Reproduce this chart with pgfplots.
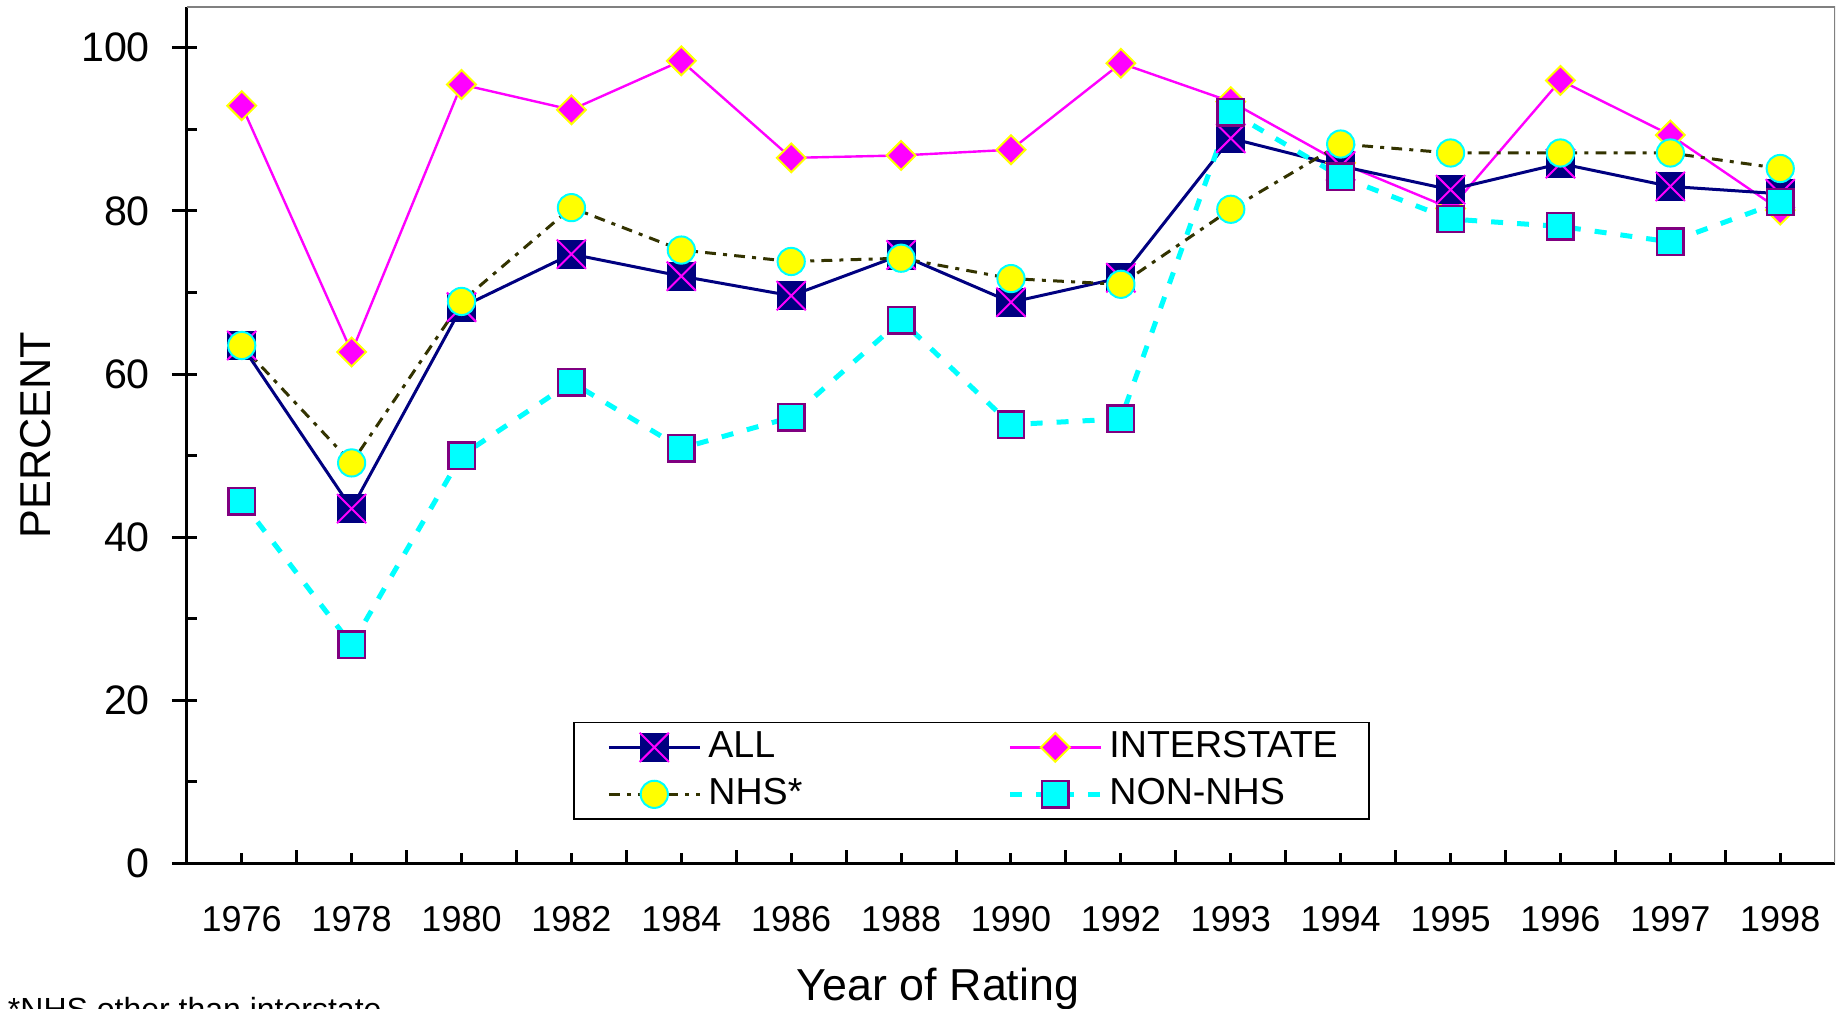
\documentclass[border=0pt]{standalone}
\usepackage{fontspec}
\setmainfont{Liberation Sans}
\usepackage{pgfplots}
\pgfplotsset{compat=1.18}
\definecolor{navyc}{RGB}{0,0,128}
\definecolor{magc}{RGB}{255,0,255}
\definecolor{yelc}{RGB}{255,255,0}
\definecolor{cyanc}{RGB}{0,255,255}
\definecolor{purpc}{RGB}{128,0,128}
\definecolor{olivec}{RGB}{51,51,0}
\definecolor{bordgray}{RGB}{128,128,128}
\pgfdeclareplotmark{allmark}{%
  \pgfpathrectangle{\pgfqpoint{-\pgfplotmarksize}{-\pgfplotmarksize}}{\pgfqpoint{2\pgfplotmarksize}{2\pgfplotmarksize}}%
  \pgfsetfillcolor{navyc}\pgfusepathqfill
  \pgfpathmoveto{\pgfqpoint{-\pgfplotmarksize}{-\pgfplotmarksize}}%
  \pgfpathlineto{\pgfqpoint{\pgfplotmarksize}{\pgfplotmarksize}}%
  \pgfpathmoveto{\pgfqpoint{-\pgfplotmarksize}{\pgfplotmarksize}}%
  \pgfpathlineto{\pgfqpoint{\pgfplotmarksize}{-\pgfplotmarksize}}%
  \pgfsetstrokecolor{magc}\pgfsetlinewidth{0.5pt}\pgfsetdash{}{0pt}\pgfusepathqstroke}
\pgfdeclareplotmark{rdiamond*}{%
  \pgfpathmoveto{\pgfqpoint{0pt}{\pgfplotmarksize}}%
  \pgfpathlineto{\pgfqpoint{\pgfplotmarksize}{0pt}}%
  \pgfpathlineto{\pgfqpoint{0pt}{-\pgfplotmarksize}}%
  \pgfpathlineto{\pgfqpoint{-\pgfplotmarksize}{0pt}}%
  \pgfpathclose
  \pgfusepathqfillstroke}
\newcommand{\lgt}[1]{\raisebox{-3.35pt}[0pt][0pt]{#1}}
\pgfplotsset{
  allstyle/.style={navyc, line width=0.75pt, solid, mark=allmark, mark size=3.65pt, mark options={solid}},
  intstyle/.style={magc, line width=0.6pt, solid, mark=rdiamond*, mark size=3.6pt, mark options={solid, draw=yelc, fill=magc, line width=0.5pt}},
  nhsstyle/.style={olivec, line width=0.75pt, dash pattern=on 2.7pt off 1.8pt on 1pt off 1.8pt, mark=*, mark size=3.4pt, mark options={solid, draw=cyanc, fill=yelc, line width=0.5pt}},
  nonstyle/.style={cyanc, line width=1.25pt, dash pattern=on 3pt off 3.5pt, mark=square*, mark size=3.3pt, mark options={solid, draw=purpc, fill=cyanc, line width=0.6pt}},
  legend image code/.code={%
    \path[draw=none, fill=none] (0pt,-5.875pt) rectangle (27.6pt,5.875pt);
    \draw[mark repeat=2,mark phase=2,#1,overlay] plot coordinates {(4.7pt,0pt) (16.075pt,0pt) (27.45pt,0pt)};},
}
\begin{document}
\begin{tikzpicture}
\begin{axis}[
  at={(0,0)}, anchor=south west,
  scale only axis, width=412.1pt, height=214.1pt,
  xmin=-0.5, xmax=14.5, ymin=0, ymax=105,
  axis lines*=left,
  axis line style={black, line width=0.75pt},
  tick align=inside,
  tick style={black, line width=0.75pt},
  major tick length=2.5pt, minor tick length=2.5pt,
  xtick={0,...,14},
  xticklabels={1976,1978,1980,1982,1984,1986,1988,1990,1992,1993,1994,1995,1996,1997,1998},
  x tick label style={font=\fontsize{9}{10}\selectfont, yshift=-7.3pt},
  ytick={0,20,...,100},
  minor ytick={10,30,...,90},
  y tick label style={font=\fontsize{10.3}{12}\selectfont, xshift=-5.7pt},
  extra x ticks={0.5,1.5,...,13.5},
  extra x tick labels={},
  extra x tick style={major tick length=3.25pt},
  extra y ticks={0,20,...,100},
  extra y tick labels={},
  extra y tick style={tick align=outside, major tick length=3.75pt},
  /pgf/number format/assume math mode=true,
  xlabel={Year of Rating}, ylabel={PERCENT},
  xlabel style={at={(axis description cs:0.4558,-0.1597)}, anchor=base, font=\fontsize{11.2}{13}\selectfont, inner sep=0pt},
  ylabel style={at={(axis description cs:-0.0825,0.5)}, anchor=base, font=\fontsize{10.8}{13}\selectfont, inner sep=0pt},
  legend columns=2,
  legend cell align=left,
  legend style={at={(rel axis cs:0.2344,0.1653)}, anchor=north west, draw=black, line width=0.4pt, fill=white,
    inner xsep=4pt, inner ysep=0.3pt, row sep=0pt, font=\fontsize{9.4}{11}\selectfont,
    /tikz/column 2/.style={column sep=45.15pt}},
]
\addlegendimage{allstyle}\addlegendentry{\lgt{ALL}}
\addlegendimage{intstyle}\addlegendentry{\lgt{INTERSTATE\hspace{1.8pt}}}
\addlegendimage{nhsstyle}\addlegendentry{\lgt{NHS*}}
\addlegendimage{nonstyle}\addlegendentry{\lgt{NON-NHS}}
\draw[bordgray, line width=0.5pt] (rel axis cs:0,1) -- (rel axis cs:1,1) -- (rel axis cs:1,0);
\addplot[intstyle, forget plot] coordinates {(0,92.9)(1,62.7)(2,95.5)(3,92.4)(4,98.4)(5,86.5)(6,86.8)(7,87.5)(8,98.1)(9,93.4)(10,85.9)(11,80.3)(12,96.0)(13,89.3)(14,80.1)};
\addplot[allstyle, forget plot] coordinates {(0,63.5)(1,43.5)(2,68.2)(3,74.7)(4,72.0)(5,69.6)(6,74.6)(7,68.8)(8,71.8)(9,88.9)(10,85.5)(11,82.6)(12,85.8)(13,83.0)(14,82.1)};
\addplot[nhsstyle, forget plot] coordinates {(0,63.5)(1,49.1)(2,68.9)(3,80.4)(4,75.2)(5,73.8)(6,74.2)(7,71.7)(8,71.0)(9,80.2)(10,88.2)(11,87.1)(12,87.1)(13,87.1)(14,85.2)};
\addplot[nonstyle, forget plot] coordinates {(0,44.4)(1,26.8)(2,50.0)(3,59.0)(4,50.9)(5,54.7)(6,66.6)(7,53.8)(8,54.5)(9,92.1)(10,84.2)(11,79.0)(12,78.1)(13,76.2)(14,81.1)};
\end{axis}
\node[anchor=base west, inner sep=0pt, font=\fontsize{8}{9.6}\selectfont] at (-44.9pt,-39.2pt) {*NHS other than interstate};
\pgfresetboundingbox
\path[use as bounding box] (-46.7pt,-36.2pt) rectangle (412.3pt,215.85pt);
\end{tikzpicture}
\end{document}
